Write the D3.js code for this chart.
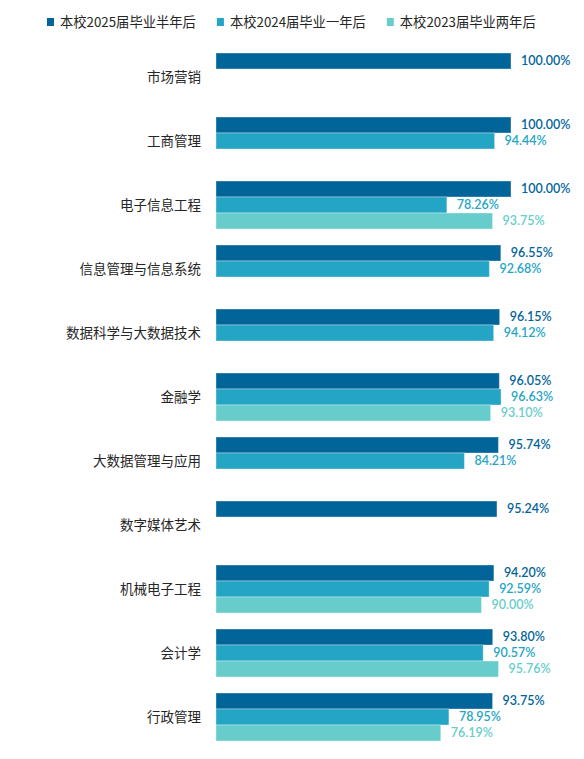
<!DOCTYPE html>
<html>
<head>
<meta charset="utf-8">
<script src="https://cdn.jsdelivr.net/npm/d3@7"></script>
<style>
  html, body { margin: 0; padding: 0; background: #fff; }
  svg { display: block; }
</style>
</head>
<body>
<div id="chart"></div>
<script>
var categories = ["市场营销", "工商管理", "电子信息工程", "信息管理与信息系统", "数据科学与大数据技术",
    "金融学", "大数据管理与应用", "数字媒体艺术", "机械电子工程", "会计学", "行政管理"];
var seriesNames = ["本校2025届毕业半年后", "本校2024届毕业一年后", "本校2023届毕业两年后"];
var s2025 = [100.00, 100.00, 100.00, 96.55, 96.15, 96.05, 95.74, 95.24, 94.20, 93.80, 93.75];
var s2024 = [null, 94.44, 78.26, 92.68, 94.12, 96.63, 84.21, null, 92.59, 90.57, 78.95];
var s2023 = [null, null, 93.75, null, null, 93.10, null, null, 90.00, 95.76, 76.19];
var colors = ["#02659a", "#25a5c6", "#67cdcc"];

var width = 584, height = 759;
var seriesValues = [s2025, s2024, s2023];

var svg = d3.select("#chart").append("svg")
    .attr("width", width)
    .attr("height", height);

var x = d3.scaleLinear().domain([0, 100]).range([216, 511]);

// each category band: 3 bar slots of 16px, 64px step
var y = d3.scaleBand()
    .domain(categories)
    .range([45, 749])
    .paddingInner(0.25)
    .paddingOuter(0.125);

var yInner = d3.scaleBand()
    .domain(d3.range(seriesNames.length))
    .range([0, y.bandwidth()]);

var rows = [];
categories.forEach(function (c, i) {
    seriesValues.forEach(function (vals, s) {
        if (vals[i] != null) rows.push({ cat: c, s: s, v: vals[i] });
    });
});

// legend
var legend = svg.append("g").attr("class", "legend");
var lx = 47;
seriesNames.forEach(function (name, i) {
    var item = legend.append("g").attr("transform", "translate(" + lx + ",0)");
    item.append("rect")
        .attr("x", 0).attr("y", 18)
        .attr("width", 7).attr("height", 8)
        .attr("fill", colors[i]);
    var t = item.append("text")
        .attr("x", 13).attr("y", 22)
        .attr("dy", "0.35em")
        .style("font-family", "'Noto Sans CJK SC', sans-serif")
        .style("font-size", "13.3px")
        .style("fill", "#262626")
        .text(name);
    lx += 13 + t.node().getComputedTextLength() + 21;
});

// category labels
svg.append("g")
    .selectAll("text")
    .data(categories)
    .enter().append("text")
    .attr("x", 201)
    .attr("y", function (d) { return y(d) + y.bandwidth() / 2; })
    .attr("dy", "0.35em")
    .attr("text-anchor", "end")
    .style("font-family", "'Noto Sans CJK SC', sans-serif")
    .style("font-size", "13.5px")
    .style("fill", "#262626")
    .text(function (d) { return d; });

// bars
svg.append("g")
    .selectAll("rect")
    .data(rows)
    .enter().append("rect")
    .attr("x", x(0))
    .attr("y", function (d) { return y(d.cat) + yInner(d.s); })
    .attr("width", function (d) { return x(d.v) - x(0); })
    .attr("height", yInner.bandwidth())
    .attr("fill", function (d) { return colors[d.s]; })
    .attr("stroke", "rgba(255,255,255,0.35)")
    .attr("stroke-width", 1);

// value labels
svg.append("g")
    .selectAll("text")
    .data(rows)
    .enter().append("text")
    .attr("x", function (d) { return x(d.v) + 10; })
    .attr("y", function (d) { return y(d.cat) + yInner(d.s) + yInner.bandwidth() / 2; })
    .attr("dy", "0.35em")
    .style("font-family", "Lato, sans-serif")
    .style("font-size", "12.5px")
    .style("font-weight", "600")
    .style("fill", function (d) { return colors[d.s]; })
    .text(function (d) { return d.v.toFixed(2) + "%"; });
</script>
</body>
</html>
